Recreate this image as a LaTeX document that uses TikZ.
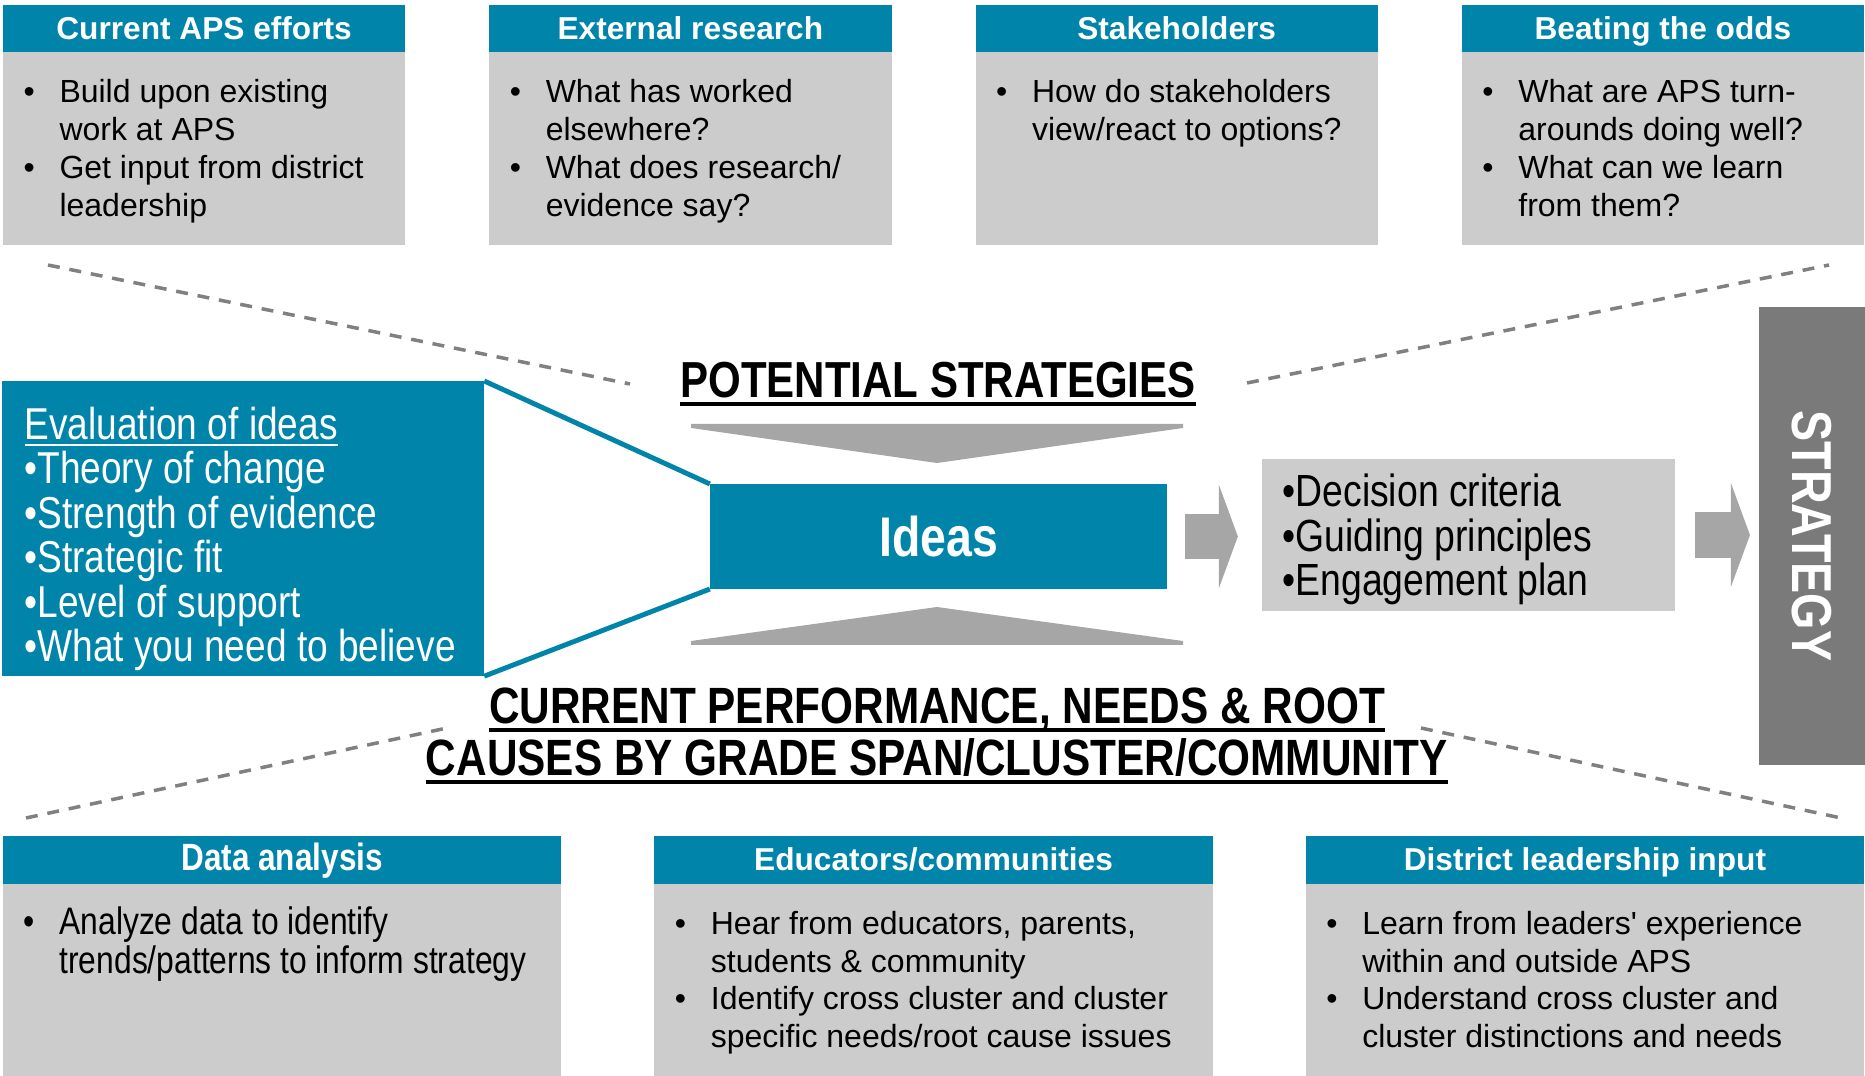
\documentclass[tikz,border=0pt]{standalone}
\usepackage{fontspec}
\setmainfont{Liberation Sans}
\newfontfamily\narrowfont{Liberation Sans}[FakeStretch=0.83]
\usetikzlibrary{positioning,arrows.meta}
\definecolor{apsblue}{RGB}{0,132,169}
\definecolor{boxgray}{RGB}{204,204,204}
\definecolor{chevgray}{RGB}{166,166,166}
\definecolor{bargray}{RGB}{122,122,122}
\definecolor{dashgray}{RGB}{128,128,128}
\newcommand{\thickul}[1]{\vtop{\hbox{\raisebox{0pt}[\height][0pt]{#1}}\kern1.1pt\hrule height1.1pt}}
\newcommand{\blist}[1]{\begin{tabular}[t]{@{}p{0.36cm}@{}l@{}}#1\end{tabular}}
\newcommand{\bul}{\textbullet}

\begin{document}
\begin{tikzpicture}[x=0.01cm,y=-0.01cm,outer sep=0pt,
    hdr/.style={fill=apsblue,text=white,inner sep=0pt,minimum height=0.47cm,
      font=\fontsize{9}{10.8}\selectfont\bfseries,text height=0.8em,text depth=0.2em},
    hdrtop/.style={hdr,minimum width=4.02cm},
    hdrbot/.style={hdr,minimum width=5.58cm,minimum height=0.48cm},
    bodybox/.style={fill=boxgray,inner sep=0pt,minimum height=1.93cm},
    items/.style={inner sep=0pt,anchor=base west,font=\fontsize{9.1}{10.8}\selectfont},
    funnelline/.style={dashgray,line width=1pt,dash pattern=on 3.4pt off 2.8pt},
    fatarrow/.style={chevgray,line width=0.45cm,-{Triangle[length=0.19cm,width=1.03cm]}}]
  \useasboundingbox (0,0) rectangle (1865,1076);

  % sources feeding the potential strategies
  \node[hdrtop,anchor=north west] (cur) at (3,5) {Current APS efforts};
  \node[hdrtop,right=0.84cm of cur] (ext) {External research};
  \node[hdrtop,right=0.84cm of ext] (stk) {Stakeholders};
  \node[hdrtop,right=0.84cm of stk] (odd) {Beating the odds};
  \foreach \n in {cur,ext,stk,odd}
    \node[bodybox,minimum width=4.02cm,below=0pt of \n] (\n-b) {};
  \node[items] (cur-t) at ([shift={(20.5,50.5)}]cur-b.north west)
    {\blist{\bul & Build upon existing\\ & work at APS\\ \bul & Get input from district\\ & leadership}};
  \node[items] (ext-t) at ([shift={(20.5,50.5)}]ext-b.north west)
    {\blist{\bul & What has worked\\ & elsewhere?\\ \bul & What does research/\\ & evidence say?}};
  \node[items] (stk-t) at ([shift={(20.5,50.5)}]stk-b.north west)
    {\blist{\bul & How do stakeholders\\ & view/react to options?}};
  \node[items] (odd-t) at ([shift={(20.5,50.5)}]odd-b.north west)
    {\blist{\bul & What are APS turn-\\ & arounds doing well?\\ \bul & What can we learn\\ & from them?}};

  % sources feeding the current performance
  \node[hdrbot,anchor=north west] (dat) at (3,836) {\narrowfont\fontsize{10.8}{12}\selectfont Data analysis};
  \node[hdrbot,right=0.93cm of dat] (edu) {Educators/communities};
  \node[hdrbot,right=0.93cm of edu] (dis) {District leadership input};
  \foreach \n in {dat,edu,dis}
    \node[bodybox,minimum width=5.58cm,minimum height=1.92cm,below=0pt of \n] (\n-b) {};
  \node[items,font=\narrowfont\fontsize{10.9}{10.8}\selectfont] (dat-t) at ([shift={(20.5,50)}]dat-b.north west)
    {\blist{\bul & Analyze data to identify\\ & trends/patterns to inform strategy}};
  \node[items] (edu-t) at ([shift={(20.5,50)}]edu-b.north west)
    {\blist{\bul & Hear from educators, parents,\\ & students \& community\\ \bul & Identify cross cluster and cluster\\ & specific needs/root cause issues}};
  \node[items] (dis-t) at ([shift={(20.5,50)}]dis-b.north west)
    {\blist{\bul & Learn from leaders\textquotesingle{} experience\\ & within and outside APS\\ \bul & Understand cross cluster and\\ & cluster distinctions and needs}};

  % dashed funnel edges
  \draw[funnelline] (48,265) -- (630,384);
  \draw[funnelline] (1247,383) -- (1829,265);
  \draw[funnelline] (26,818) -- (447,728);
  \draw[funnelline] (1421,728) -- (1841,818);

  % titles
  \node[anchor=base,inner sep=0pt,font=\narrowfont\fontsize{14.4}{14.4}\selectfont\bfseries] (pot) at (938,398)
    {\thickul{POTENTIAL STRATEGIES}};
  \node[anchor=base,inner sep=0pt,font=\narrowfont\fontsize{14.5}{14.2}\selectfont\bfseries] (crt) at (937,724)
    {\begin{tabular}[t]{@{}c@{}}\thickul{CURRENT PERFORMANCE, NEEDS \& ROOT}\\
      \thickul{CAUSES BY GRADE SPAN/CLUSTER/COMMUNITY}\end{tabular}};

  % evaluation funnel and ideas
  \node[fill=apsblue,inner sep=0pt,minimum width=4.82cm,minimum height=2.95cm,anchor=north west] (eval) at (2,381) {};
  \node[inner sep=0pt,anchor=base west,text=white,font=\narrowfont\fontsize{12.7}{12.8}\selectfont] (eval-t) at (24.5,439.5)
    {\renewcommand{\arraystretch}{0.89}\begin{tabular}[t]{@{}l@{}}\underline{Evaluation of ideas}\\ \bul Theory of change\\ \bul Strength of evidence\\
      \bul Strategic fit\\ \bul Level of support\\ \bul What you need to believe\end{tabular}};
  \node[fill=apsblue,text=white,inner sep=0pt,minimum width=4.57cm,minimum height=1.05cm,
    font=\narrowfont\fontsize{15.9}{18}\selectfont\bfseries] (ideas) at (938.5,536.5) {Ideas};
  \draw[apsblue,line width=1.4pt] (eval.north east) -- (ideas.north west);
  \draw[apsblue,line width=1.4pt] (eval.south east) -- (ideas.south west);
  \fill[chevgray] (691,424) -- (1183,424) -- (1183,428) -- (937,463) -- (691,428) -- cycle;
  \fill[chevgray] (691,645) -- (1183,645) -- (1183,641) -- (937,607) -- (691,641) -- cycle;

  % criteria and strategy
  \node[fill=boxgray,inner sep=0pt,minimum width=4.13cm,minimum height=1.52cm] (dec) at (1468.5,535) {};
  \node[inner sep=0pt,anchor=base west,font=\narrowfont\fontsize{12.8}{12.8}\selectfont] (dec-t) at (1282.5,506.5)
    {\renewcommand{\arraystretch}{0.89}\begin{tabular}[t]{@{}l@{}}\bul Decision criteria\\ \bul Guiding principles\\ \bul Engagement plan\end{tabular}};
  \node[fill=bargray,inner sep=0pt,minimum width=1.06cm,minimum height=4.58cm] (strat) at (1812,536) {};
  \node[rotate=-90,text=white,inner sep=0pt,font=\narrowfont\fontsize{16}{18}\selectfont\bfseries] (strat-t) at (strat.center) {STRATEGY};
  \draw[fatarrow,shorten <=0.18cm,shorten >=0.24cm] (ideas.east) -- (ideas.east -| dec.west);
  \draw[fatarrow,shorten <=0.2cm,shorten >=0.09cm] (dec.east) -- (dec.east -| strat.west);
\end{tikzpicture}
\end{document}
